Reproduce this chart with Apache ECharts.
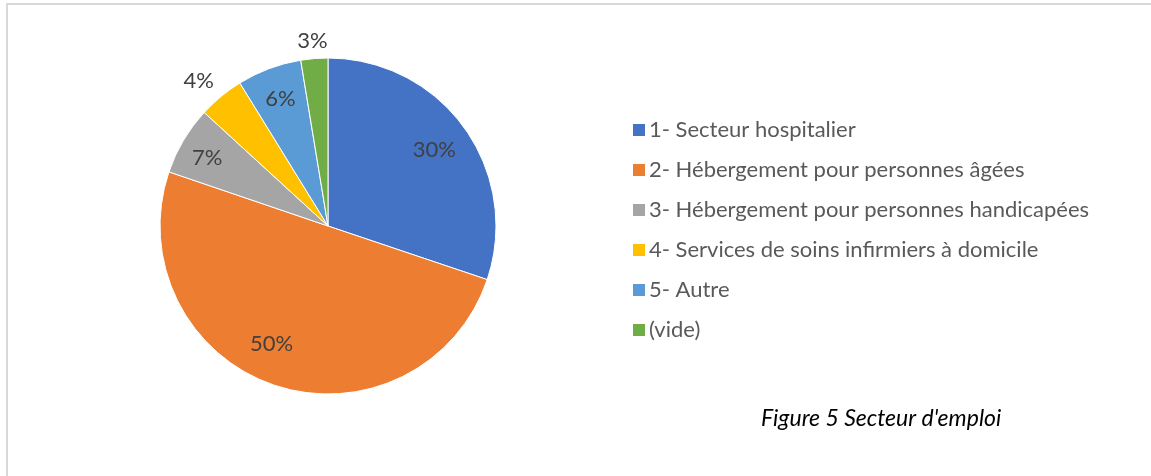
<!DOCTYPE html>
<html>
<head>
<meta charset="utf-8">
<script src="https://cdn.jsdelivr.net/npm/echarts@6/dist/echarts.min.js"></script>
<style>
  html, body { margin: 0; padding: 0; background: #fff; }
  #chart { width: 1151px; height: 476px; }
</style>
</head>
<body>
<div id="chart"></div>
<script>
// Secteur d'emploi : parts (en %)
const categories = [
  '1- Secteur hospitalier',
  '2- Hébergement pour personnes âgées',
  '3- Hébergement pour personnes handicapées',
  '4- Services de soins infirmiers à domicile',
  '5- Autre',
  '(vide)'
]
const values = [30.2, 50.1, 6.6, 4.4, 6.2, 2.6]
const colors = ['#4472c4', '#ed7d31', '#a5a5a5', '#ffc000', '#5b9bd5', '#70ad47']
// étiquettes placées hors du camembert
const outsideLabels = ['4- Services de soins infirmiers à domicile', '(vide)']
const caption = "Figure 5 Secteur d'emploi"

const font = 'Lato, "Open Sans", sans-serif'
const center = [328, 226]
const radius = 168

const fmt = p => Math.round(p.percent) + '%'

// petits décalages façon "ajustement optimal" d'Excel
const labelShift = {
  '3%': { dx: 14, dy: -10 },
  '4%': { dx: -2, dy: -9 },
  '50%': { dx: -13, dy: -11 },
  '30%': { dx: -4, dy: 3 },
  '7%': { dx: -4, dy: 1 }
}

const chart = echarts.init(document.getElementById('chart'))

const option = {
  animation: false,
  color: colors,
  textStyle: { fontFamily: font },
  graphic: [
    {
      type: 'rect',
      shape: { x: 7, y: 4, width: 1200, height: 520 },
      style: { fill: 'none', stroke: '#d9d9d9', lineWidth: 2 },
      silent: true
    }
  ],
  title: {
    text: caption,
    left: 756,
    top: 402,
    textStyle: { fontFamily: font, fontStyle: 'italic', fontWeight: 'normal', fontSize: 23, color: '#000' }
  },
  legend: {
    orient: 'vertical',
    left: 626,
    top: 112,
    icon: 'rect',
    itemWidth: 14,
    itemHeight: 14,
    itemGap: 14,
    data: categories,
    textStyle: { fontFamily: font, fontSize: 22, color: '#595959', lineHeight: 26, padding: [0, 0, 0, -2] }
  },
  series: [
    {
      // camembert principal
      type: 'pie',
      center: center,
      radius: radius,
      startAngle: 90,
      clockwise: true,
      data: categories.map((name, i) => ({
        name,
        value: values[i],
        label: outsideLabels.includes(name) ? { show: true } : { show: false }
      })),
      itemStyle: { borderColor: '#fff', borderWidth: 1 },
      label: {
        position: 'outside',
        formatter: fmt,
        fontFamily: font,
        fontSize: 22,
        color: '#404040',
        distanceToLabelLine: 0
      },
      labelLine: { show: false, length: 8, length2: 0 },
      labelLayout: p => labelShift[p.text] || {},
      emphasis: { disabled: true }
    },
    {
      // anneau transparent pour placer les étiquettes intérieures vers le bord
      type: 'pie',
      center: center,
      radius: [radius * 0.58, radius],
      startAngle: 90,
      clockwise: true,
      silent: true,
      data: categories.map((name, i) => ({
        name,
        value: values[i],
        label: { show: !outsideLabels.includes(name) }
      })),
      itemStyle: { color: 'rgba(0,0,0,0)' },
      label: {
        position: 'inside',
        formatter: fmt,
        fontFamily: font,
        fontSize: 22,
        color: '#404040'
      },
      labelLine: { show: false },
      labelLayout: p => labelShift[p.text] || {},
      emphasis: { disabled: true }
    }
  ]
}

chart.setOption(option)
window.addEventListener('resize', () => chart.resize())
</script>
</body>
</html>
